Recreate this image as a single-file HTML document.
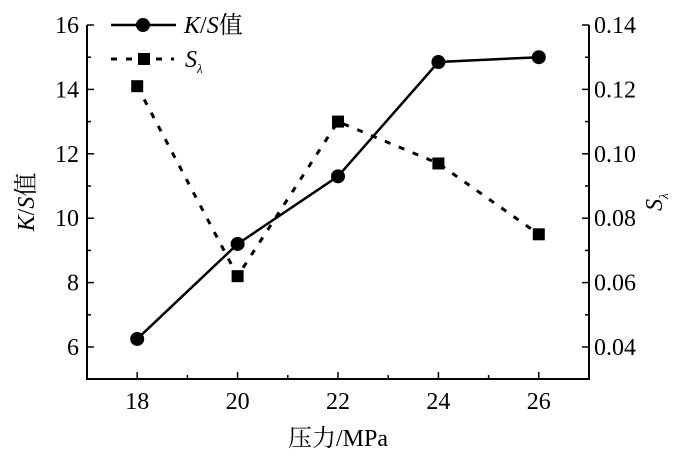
<!DOCTYPE html>
<html><head><meta charset="utf-8"><style>
body{margin:0;background:#fff}
text{font-family:'Liberation Serif','Noto Serif CJK SC',serif;fill:#000}
</style></head><body>
<svg id="c" width="700" height="454" xmlns="http://www.w3.org/2000/svg"></svg>
<script>
const pressures=[18,20,22,24,26];
const ksValues=[6.25,9.2,11.3,14.85,15.0];
const sValues=[0.121,0.062,0.110,0.097,0.075];
const xTicks=[18,20,22,24,26];
const yLeftTicks=[6,8,10,12,14,16];
const yRightTicks=[0.04,0.06,0.08,0.10,0.12,0.14];
const NS="http://www.w3.org/2000/svg";
const svg=document.getElementById('c');
const L=87,R=589,T=25,B=379;
const FF="'Liberation Serif', 'Times New Roman', 'Noto Serif CJK SC', serif";
const x=v=>L+(v-17)/10*(R-L);
const yl=v=>347-(v-6)*32.2;
const yr=v=>347-(v-0.04)*3220;
function mk(t,a,p){const e=document.createElementNS(NS,t);for(const k in a)e.setAttribute(k,a[k]);if(t==='text')e.setAttribute('font-family',FF);(p||svg).appendChild(e);return e;}
let e;
e=mk('path',{d:`M${L},${T}V${B}H${R}V${T}`,fill:'none',stroke:'#000','stroke-width':2});


for(let v=17;v<=27;v++){const big=v%2==0;
 e=mk('line',{x1:x(v),x2:x(v),y1:B,y2:B-(big?7:4),stroke:'#000','stroke-width':1.5});
 
 }
xTicks.forEach(v=>{e=mk('text',{x:x(v),y:B+30,'text-anchor':'middle','font-size':24});e.textContent=v;
 
 });
for(let v=5;v<=16;v++){const big=v%2==0;
 e=mk('line',{x1:L,x2:L+(big?7:4),y1:yl(v),y2:yl(v),stroke:'#000','stroke-width':1.5});
 
 
 e=mk('line',{x1:R,x2:R-(big?7:4),y1:yl(v),y2:yl(v),stroke:'#000','stroke-width':1.5});
 
 }
yLeftTicks.forEach(v=>{e=mk('text',{x:L-8,y:yl(v)+8,'text-anchor':'end','font-size':24});e.textContent=v;
 
 });
yRightTicks.forEach(v=>{e=mk('text',{x:R+5,y:yr(v)+8,'font-size':24});e.textContent=v.toFixed(2);
 
 });
e=mk('polyline',{points:pressures.map((p,i)=>x(p)+','+yr(sValues[i])).join(' '),fill:'none',stroke:'#000','stroke-width':3,'stroke-dasharray':'6,9'});


e=mk('polyline',{points:pressures.map((p,i)=>x(p)+','+yl(ksValues[i])).join(' '),fill:'none',stroke:'#000','stroke-width':2.5});


pressures.forEach((p,i)=>{
 e=mk('rect',{x:x(p)-6,y:yr(sValues[i])-6,width:12,height:12,fill:'#000'});
 
 
 e=mk('circle',{cx:x(p),cy:yl(ksValues[i]),r:7,fill:'#000'});
 
 
});
const g=mk('g',{});


mk('line',{x1:111,x2:176,y1:25,y2:25,stroke:'#000','stroke-width':2.5},g);
mk('circle',{cx:143,cy:25,r:7,fill:'#000'},g);
e=mk('text',{x:184,y:33,'font-size':24},g);e.innerHTML='<tspan font-style="italic">K</tspan>/<tspan font-style="italic">S</tspan>值';
mk('line',{x1:111,x2:174,y1:59,y2:59,stroke:'#000','stroke-width':3,'stroke-dasharray':'6,9'},g);
mk('rect',{x:138,y:53,width:12,height:12,fill:'#000'},g);
e=mk('text',{x:185,y:67,'font-size':24},g);e.innerHTML='<tspan font-style="italic">S</tspan><tspan font-size="13" dy="6" font-style="italic">λ</tspan>';
e=mk('text',{x:338,y:446,'text-anchor':'middle','font-size':24});e.textContent='压力/MPa';


e=mk('text',{transform:'translate(34,202) rotate(-90)','text-anchor':'middle','font-size':24});
e.innerHTML='<tspan font-style="italic">K</tspan>/<tspan font-style="italic">S</tspan>值';


e=mk('text',{transform:'translate(662,202) rotate(-90)','text-anchor':'middle','font-size':24});
e.innerHTML='<tspan font-style="italic">S</tspan><tspan font-size="13" dy="6" font-style="italic">λ</tspan>';


</script>
</body></html>
